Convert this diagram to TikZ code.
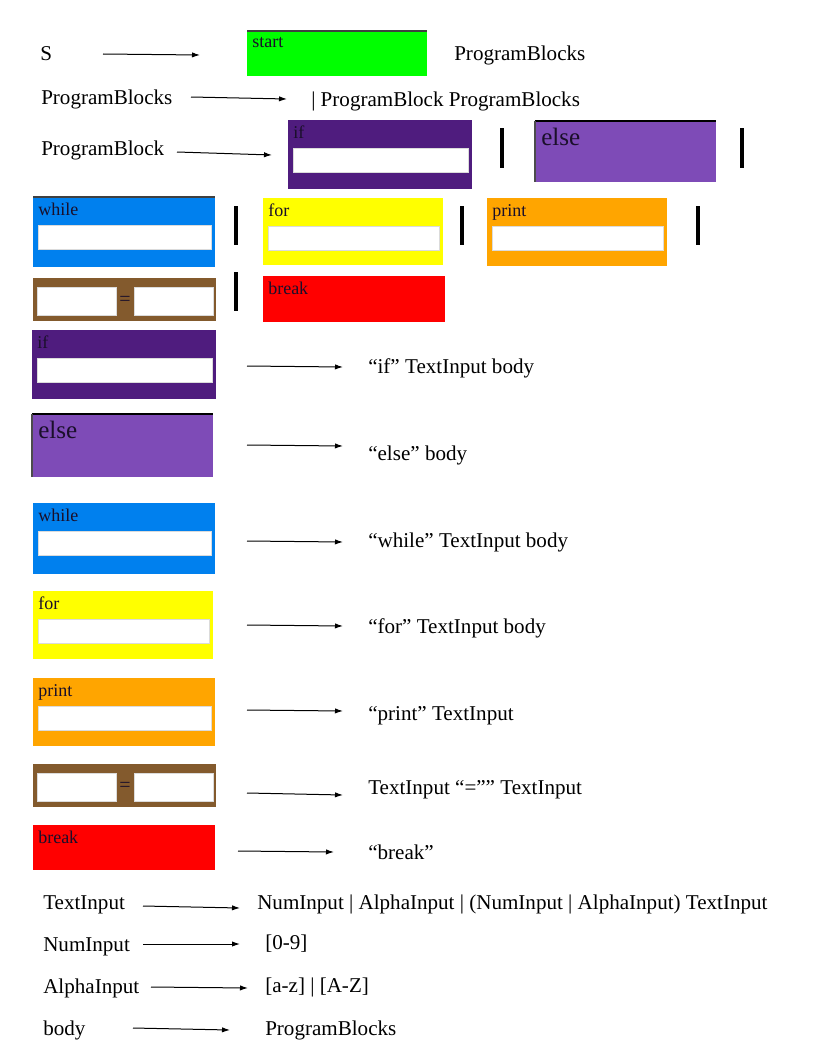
\documentclass[tikz,border=0pt]{standalone}
\usepackage{fontspec}
\setmainfont{Liberation Serif}
\usetikzlibrary{arrows.meta}
\definecolor{startgreen}{HTML}{00FF00}
\definecolor{ifpurple}{HTML}{4F1C7E}
\definecolor{elsepurple}{HTML}{7E4BB7}
\definecolor{whileblue}{HTML}{0080EE}
\definecolor{foryellow}{HTML}{FFFF00}
\definecolor{printorange}{HTML}{FFA500}
\definecolor{assignbrown}{HTML}{835A2D}
\definecolor{breakred}{HTML}{FF0000}
\definecolor{labelink}{HTML}{1A0F2A}
\newcommand\inblock[7]{% name, x, y, w, h, colour, label
  \node[blk,fill=#6,minimum width=#4*0.75pt,minimum height=#5*0.75pt] (#1) at (#2,#3) {};
  \node[lbl] (#1l) at ([shift={(5,6)}]#1.north west) {#7};
  \node[field,minimum width=#4*0.75pt-9*0.75pt,minimum height=24*0.75pt] (#1f) at ([shift={(5,28)}]#1.north west) {};
}
\newcommand\plainblock[7]{% name, x, y, w, h, colour, label
  \node[blk,fill=#6,minimum width=#4*0.75pt,minimum height=#5*0.75pt] (#1) at (#2,#3) {};
  \node[lbl] (#1l) at ([shift={(5,6)}]#1.north west) {#7};
}
\newcommand\elseblock[5]{% name, x, y, w, h
  \node[blk,fill=elsepurple,minimum width=#4*0.75pt,minimum height=#5*0.75pt] (#1) at (#2,#3) {};
  \draw[line width=1.2pt,black] (#1.north west) -- (#1.north east);
  \draw[line width=0.8pt,black!70] (#1.north west) -- (#1.south west);
  \node[biglbl] (#1l) at ([shift={(6,7)}]#1.north west) {else};
}
\newcommand\assignblock[3]{% name, x, y
  \node[blk,fill=assignbrown,minimum width=183*0.75pt,minimum height=43*0.75pt] (#1) at (#2,#3) {};
  \node[field,minimum width=79*0.75pt,minimum height=28*0.75pt] (#1a) at ([shift={(4,9)}]#1.north west) {};
  \node[field,minimum width=79*0.75pt,minimum height=28*0.75pt] (#1b) at ([shift={(101,9)}]#1.north west) {};
  \node[lbl,anchor=center,font=\fontsize{15}{16}\selectfont] (#1e) at ([shift={(92,23)}]#1.north west) {=};
}
\begin{document}
\begin{tikzpicture}[x=0.75pt,y=-0.75pt,
  txt/.style={anchor=west,inner sep=0pt,font=\fontsize{15.8}{18}\selectfont,text height=12pt,text depth=2pt},
  arr/.style={-{Latex[length=6pt,width=4pt]},line width=0.75pt},
  blk/.style={anchor=north west,inner sep=0pt,outer sep=0pt,draw=none},
  lbl/.style={anchor=north west,inner sep=0pt,font=\fontsize{13.5}{15}\selectfont,text=labelink},
  biglbl/.style={anchor=north west,inner sep=0pt,font=\fontsize{18.8}{20}\selectfont,text=labelink},
  field/.style={anchor=north west,fill=white,draw=white!72!gray,line width=0.6pt,inner sep=0pt,outer sep=0pt},
  bar/.style={line width=2.3pt,black},
  topline/.style={line width=1pt,black!75}]
\useasboundingbox (0,0) rectangle (816,1056);

% ---------- Row 1 ----------
\node[txt] (S) at (40,54) {S};
\coordinate (a1s) at (103,54); \coordinate (a1e) at (200,55);
\draw[arr] (a1s) -- (a1e);
\plainblock{start}{247}{31}{180}{45}{startgreen}{start}
\draw[topline] (start.north west) -- (start.north east);
\node[txt] (r1) at (454,54) {ProgramBlocks};

% ---------- Row 2 ----------
\node[txt] (PBs) at (41,98) {ProgramBlocks};
\coordinate (a2s) at (191,97); \coordinate (a2e) at (287,99);
\draw[arr] (a2s) -- (a2e);
\node[txt] (r2) at (311,100) {| ProgramBlock ProgramBlocks};

% ---------- Row 3 ----------
\node[txt] (PB) at (41,149) {ProgramBlock};
\coordinate (a3s) at (177,152); \coordinate (a3e) at (272,155);
\draw[arr] (a3s) -- (a3e);
\inblock{ifA}{288}{120}{184}{69}{ifpurple}{if}
\draw[bar] (502,128) -- (502,168);
\elseblock{elseA}{535}{121}{181}{61}
\draw[bar] (742,128) -- (742,168);

% ---------- Row 4 ----------
\inblock{whileA}{33}{197}{182}{70}{whileblue}{while}
\draw[topline] (whileA.north west) -- (whileA.north east);
\draw[bar] (236,206) -- (236,245);
\inblock{forA}{263}{198}{180}{67}{foryellow}{for}
\draw[bar] (462,206) -- (462,245);
\inblock{printA}{487}{198}{180}{68}{printorange}{print}
\draw[bar] (698,206) -- (698,245);

% ---------- Row 5 ----------
\assignblock{asA}{33}{278}
\draw[bar] (236,272) -- (236,311);
\plainblock{breakA}{263}{276}{182}{46}{breakred}{break}

% ---------- Block rules ----------
\inblock{ifB}{32}{330}{184}{69}{ifpurple}{if}
\coordinate (b1s) at (247,366); \coordinate (b1e) at (343,367);
\draw[arr] (b1s) -- (b1e);
\node[txt] (rb1) at (368,367) {“if” TextInput body};

\elseblock{elseB}{32}{414}{181}{63}
\coordinate (b2s) at (247,445); \coordinate (b2e) at (343,446);
\draw[arr] (b2s) -- (b2e);
\node[txt] (rb2) at (368,454) {“else” body};

\inblock{whileB}{33}{503}{182}{71}{whileblue}{while}
\coordinate (b3s) at (247,541); \coordinate (b3e) at (343,542);
\draw[arr] (b3s) -- (b3e);
\node[txt] (rb3) at (368,541) {“while” TextInput body};

\inblock{forB}{33}{591}{180}{68}{foryellow}{for}
\coordinate (b4s) at (247,625); \coordinate (b4e) at (343,626);
\draw[arr] (b4s) -- (b4e);
\node[txt] (rb4) at (368,627) {“for” TextInput body};

\inblock{printB}{33}{678}{182}{68}{printorange}{print}
\coordinate (b5s) at (247,710); \coordinate (b5e) at (343,711);
\draw[arr] (b5s) -- (b5e);
\node[txt] (rb5) at (368,714) {“print” TextInput};

\assignblock{asB}{33}{764}
\coordinate (b6s) at (247,793); \coordinate (b6e) at (343,795);
\draw[arr] (b6s) -- (b6e);
\node[txt] (rb6) at (368,788) {TextInput “=”” TextInput};

\plainblock{breakB}{33}{825}{182}{45}{breakred}{break}
\coordinate (b7s) at (238,851); \coordinate (b7e) at (334,852);
\draw[arr] (b7s) -- (b7e);
\node[txt] (rb7) at (368,853) {“break”};

% ---------- Lexical rules ----------
\node[txt] (TI) at (43,903) {TextInput};
\coordinate (c1s) at (143,906); \coordinate (c1e) at (240,908);
\draw[arr] (c1s) -- (c1e);
\node[txt] (rc1) at (257,903) {NumInput | AlphaInput | (NumInput | AlphaInput) TextInput};

\node[txt] (NI) at (43,945) {NumInput};
\coordinate (c2s) at (143,944); \coordinate (c2e) at (240,944);
\draw[arr] (c2s) -- (c2e);
\node[txt] (rc2) at (265,943) {[0-9]};

\node[txt] (AI) at (43,987) {AlphaInput};
\coordinate (c3s) at (151,987); \coordinate (c3e) at (248,988);
\draw[arr] (c3s) -- (c3e);
\node[txt] (rc3) at (265,986) {[a-z] | [A-Z]};

\node[txt] (BD) at (43,1029) {body};
\coordinate (c4s) at (133,1028); \coordinate (c4e) at (230,1030);
\draw[arr] (c4s) -- (c4e);
\node[txt] (rc4) at (265,1029) {ProgramBlocks};
\end{tikzpicture}
\end{document}
